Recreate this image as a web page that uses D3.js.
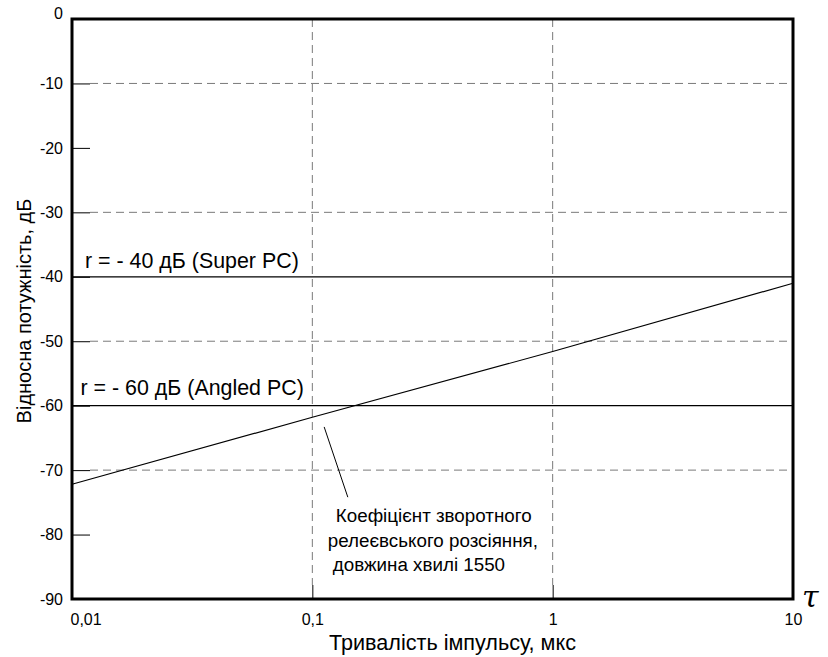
<!DOCTYPE html>
<html>
<head>
<meta charset="utf-8">
<script src="https://cdn.jsdelivr.net/npm/d3@7"></script>
<style>
  html, body { margin: 0; padding: 0; background: #fff; }
  svg { display: block; font-family: "Liberation Sans", Arial, sans-serif; }
</style>
</head>
<body>
<svg id="chart" width="828" height="657"></svg>
<script>
// Pulse duration, µs (log axis)
const xTicks = [0.01, 0.1, 1, 10];
const xTickLabels = ["0,01", "0,1", "1", "10"];
// Relative power, dB
const yTicks = [0, -10, -20, -30, -40, -50, -60, -70, -80, -90];
const yGrid = [-10, -30, -50, -70];
const xGrid = [0.1, 1];

// Backscatter coefficient vs pulse duration
const backscatterX = [0.01, 0.1, 1, 10];
const backscatterY = [-72.2, -61.8, -51.6, -41.0];

// Connector reflectance levels
const reflectLevels = [-40, -60];
const reflectLabels = ["r = - 40 дБ (Super PC)", "r = - 60 дБ (Angled PC)"];

// Callout pointer (from, to) in data units
const pointerX = [0.112, 0.1405];
const pointerY = [-63.3, -74.2];
const calloutLines = ["Коефіцієнт зворотного", "релеєвського розсіяння,", "довжина хвилі 1550"];

const svg = d3.select("#chart");
const plotLeft = 72, plotRight = 793, plotTop = 19, plotBottom = 599;

const x = d3.scaleLog().domain([0.01, 10]).range([plotLeft, plotRight]);
const y = d3.scaleLinear().domain([-90, 0]).range([plotBottom, plotTop]);

// Dashed grid
svg.append("g").selectAll("line").data(yGrid).join("line")
  .attr("x1", plotLeft + 18).attr("x2", plotRight)
  .attr("y1", d => y(d)).attr("y2", d => y(d))
  .attr("stroke", "#7a7a7a").attr("stroke-width", 1).attr("stroke-dasharray", "8,5");
svg.append("g").selectAll("line").data(xGrid).join("line")
  .attr("x1", d => x(d)).attr("x2", d => x(d))
  .attr("y1", plotTop).attr("y2", plotBottom - 14)
  .attr("stroke", "#7a7a7a").attr("stroke-width", 1).attr("stroke-dasharray", "8,5");

// Y axis (ticks pointing inward)
const yAxis = d3.axisLeft(y).tickValues(yTicks).tickSizeInner(-18).tickSizeOuter(0).tickPadding(9)
  .tickFormat(d => d === 0 ? "0" : String(d));
const gy = svg.append("g").attr("transform", `translate(${plotLeft},0)`).call(yAxis);
gy.select(".domain").remove();
gy.selectAll(".tick line").attr("stroke", "#000").attr("stroke-width", 1);
gy.selectAll(".tick text").attr("font-size", 16).attr("fill", "#000")
  .attr("font-family", "Liberation Sans, Arial, sans-serif")
  .attr("dy", d => d === 0 ? "-0.05em" : "0.32em");

// X axis (ticks pointing inward)
const xAxis = d3.axisBottom(x).tickValues(xTicks).tickSizeInner(-14).tickSizeOuter(0).tickPadding(15)
  .tickFormat((d, i) => xTickLabels[i]);
const gx = svg.append("g").attr("transform", `translate(0,${plotBottom})`).call(xAxis);
gx.select(".domain").remove();
gx.selectAll(".tick line").attr("stroke", "#000").attr("stroke-width", 1);
gx.selectAll(".tick text").attr("font-size", 16).attr("fill", "#000")
  .attr("font-family", "Liberation Sans, Arial, sans-serif")
  .attr("text-anchor", (d, i) => i === 0 ? "start" : "middle")
  .attr("dx", (d, i) => i === 0 ? -2 : 0);

// Reflectance levels
svg.append("g").selectAll("line").data(reflectLevels).join("line")
  .attr("x1", plotLeft).attr("x2", plotRight)
  .attr("y1", d => y(d)).attr("y2", d => y(d))
  .attr("stroke", "#000").attr("stroke-width", 1.2);
svg.append("g").selectAll("text").data(reflectLevels).join("text")
  .attr("x", (d, i) => i === 0 ? plotLeft + 13 : plotLeft + 8.5)
  .attr("y", (d, i) => y(d) - (i === 0 ? 8.5 : 10.7))
  .attr("font-size", 21.4).attr("fill", "#000")
  .text((d, i) => reflectLabels[i]);

// Backscatter line
const line = d3.line().x(d => x(d[0])).y(d => y(d[1]));
svg.append("path")
  .datum(backscatterX.map((v, i) => [v, backscatterY[i]]))
  .attr("d", line).attr("fill", "none").attr("stroke", "#000").attr("stroke-width", 1.2);

// Callout
svg.append("line")
  .attr("x1", x(pointerX[0])).attr("y1", y(pointerY[0]))
  .attr("x2", x(pointerX[1])).attr("y2", y(pointerY[1]))
  .attr("stroke", "#000").attr("stroke-width", 1);
const px = x(pointerX[1]), py = y(pointerY[1]);
const calloutDx = [-12, -20, -15];
const calloutDy = [25, 49.5, 74];
svg.append("g").selectAll("text").data(calloutLines).join("text")
  .attr("x", (d, i) => px + calloutDx[i])
  .attr("y", (d, i) => py + calloutDy[i])
  .attr("font-size", 18.8).attr("fill", "#000")
  .text(d => d);

// Frame
svg.append("rect")
  .attr("x", plotLeft).attr("y", plotTop).attr("width", plotRight - plotLeft).attr("height", plotBottom - plotTop)
  .attr("fill", "none").attr("stroke", "#000").attr("stroke-width", 3);

// Axis titles
svg.append("text")
  .attr("x", 452.5).attr("y", 650).attr("text-anchor", "middle")
  .attr("font-size", 21.6).attr("fill", "#000")
  .text("Тривалість імпульсу, мкс");
svg.append("text")
  .attr("transform", "translate(31,311) rotate(-90)").attr("text-anchor", "middle")
  .attr("font-size", 20).attr("fill", "#000")
  .text("Відносна потужність, дБ");

// Pulse duration symbol at the end of the x axis
svg.append("text")
  .attr("x", 802).attr("y", 607)
  .attr("font-family", "DejaVu Serif, serif").attr("font-style", "italic")
  .attr("font-size", 30).attr("fill", "#000")
  .text("τ");
</script>
</body>
</html>
